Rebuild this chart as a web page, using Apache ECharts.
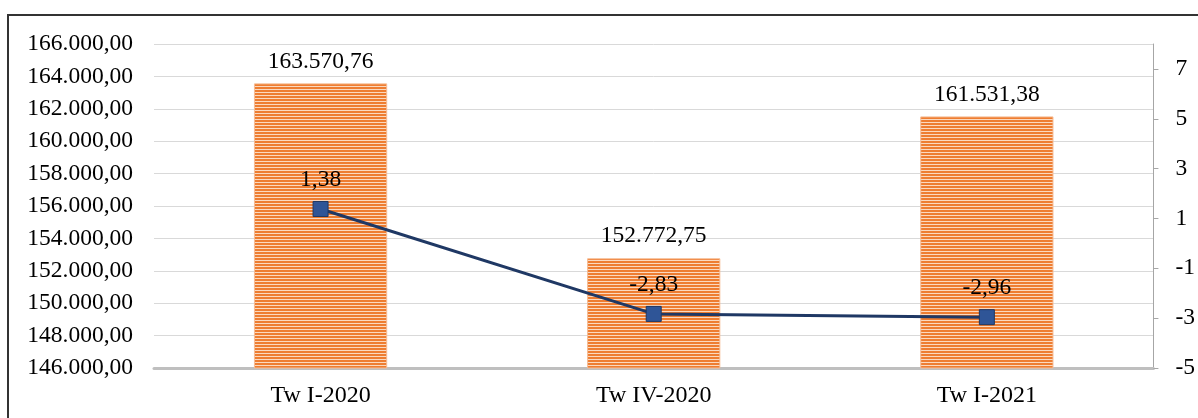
<!DOCTYPE html>
<html>
<head>
<meta charset="utf-8">
<script src="https://cdn.jsdelivr.net/npm/echarts@6/dist/echarts.min.js"></script>
<style>
  html, body { margin: 0; padding: 0; background: #fff; }
  #chart { width: 1198px; height: 418px; }
</style>
</head>
<body>
<div id="chart"></div>
<script>
// Quarterly values (bars, left axis) and growth rates (line, right axis)
const categories = ['Tw I-2020', 'Tw IV-2020', 'Tw I-2021'];
const barValues = [163570.76, 152772.75, 161531.38];
const lineValues = [1.38, -2.83, -2.96];
const rightTicks = [-5, -3, -1, 1, 3, 5, 7];

const FONT = '"Liberation Serif", "Times New Roman", serif';

// Format number as 1.234,56
function fmt(v, decimals) {
  const parts = Math.abs(v).toFixed(decimals).split('.');
  const intPart = parts[0].replace(/\B(?=(\d{3})+(?!\d))/g, '.');
  return (v < 0 ? '-' : '') + intPart + (decimals ? ',' + parts[1] : '');
}

// Horizontal striped fill for the bars
const stripe = document.createElement('canvas');
stripe.width = 4; stripe.height = 3;
const sc = stripe.getContext('2d');
sc.fillStyle = '#EE7D31'; sc.fillRect(0, 0, 4, 2);
sc.fillStyle = '#FBD9BF'; sc.fillRect(0, 2, 4, 1);

const chart = echarts.init(document.getElementById('chart'), null, { renderer: 'canvas' });

chart.setOption({
  backgroundColor: '#fff',
  animation: false,
  graphic: [{
    type: 'rect',
    shape: { x: 8, y: 15, width: 1400, height: 600 },
    style: { fill: 'none', stroke: '#333', lineWidth: 2 },
    silent: true,
    z: 100
  }],
  grid: { left: 154, right: 44, top: 44, bottom: 50 },
  xAxis: {
    type: 'category',
    data: categories,
    axisTick: { show: false },
    axisLine: { onZero: false, lineStyle: { color: '#BFBFBF', width: 3 } },
    axisLabel: { color: '#000', fontFamily: FONT, fontSize: 24, margin: 16 }
  },
  yAxis: [{
    type: 'value',
    min: 146000, max: 166000, interval: 2000,
    axisLine: { show: false },
    axisTick: { show: false },
    splitLine: { lineStyle: { color: '#D9D9D9', width: 1 } },
    axisLabel: { color: '#000', fontFamily: FONT, fontSize: 23.5, margin: 21,
      formatter: v => fmt(v, 2) }
  }, {
    type: 'value',
    min: -5, max: 8, interval: 2,
    position: 'right',
    splitLine: { show: false },
    axisLine: { show: true, onZero: false, lineStyle: { color: '#A6A6A6', width: 1 } },
    axisTick: { show: true, length: 5, customValues: rightTicks, lineStyle: { color: '#A6A6A6' } },
    axisLabel: { color: '#000', fontFamily: FONT, fontSize: 23.5, margin: 22,
      customValues: rightTicks, formatter: v => String(v) }
  }],
  series: [{
    type: 'bar',
    data: barValues,
    barWidth: '40%',
    itemStyle: {
      color: { image: stripe, repeat: 'repeat' },
      borderColor: '#F6BC94', borderWidth: 1
    },
    label: {
      show: true, position: 'top', distance: 10,
      color: '#000', fontFamily: FONT, fontSize: 23.5,
      formatter: p => fmt(p.value, 2)
    },
    z: 2
  }, {
    type: 'line',
    yAxisIndex: 1,
    data: lineValues,
    symbol: 'rect',
    symbolSize: 15,
    lineStyle: { color: '#1F3864', width: 3 },
    itemStyle: { color: '#2F5597', borderColor: '#1F3864', borderWidth: 1 },
    label: {
      show: true, position: 'top', distance: 9,
      color: '#000', fontFamily: FONT, fontSize: 23.5,
      formatter: p => fmt(p.value, 2)
    },
    z: 3
  }]
});
</script>
</body>
</html>
